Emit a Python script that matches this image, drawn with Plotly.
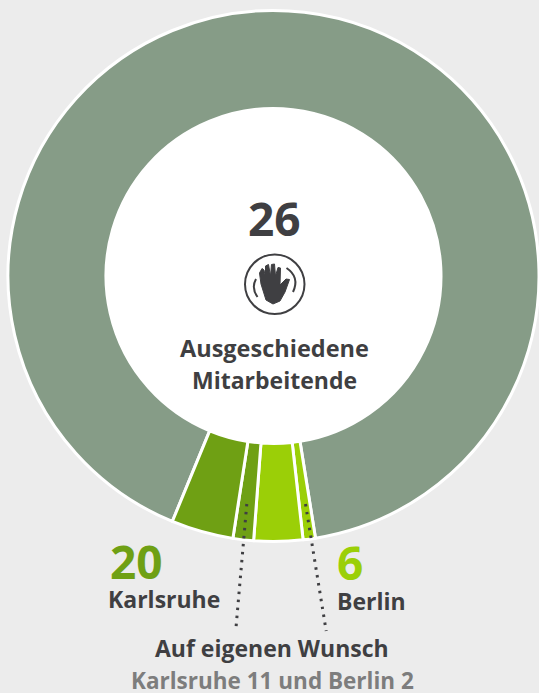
import plotly.graph_objects as go

W, H = 539, 693
categories = ["Weitere Belegschaft", "Berlin, auf eigenen Wunsch", "Berlin", "Karlsruhe, auf eigenen Wunsch", "Karlsruhe"]
values = [328.5, 2.7, 10.7, 4.5, 13.6]
colors = ["#869c87", "#9bcf07", "#9bcf07", "#6fa014", "#6fa014"]

FONT = "Open Sans"
DARK = "#3f3f42"
GRAY = "#7d7d7d"
GREEN_D = "#6fa014"
GREEN_L = "#9bcf07"

cx, cy, R, r_in = 273.5, 276, 265.5, 167.5

fig = go.Figure()
fig.add_trace(go.Pie(
    labels=categories, values=values, sort=False, direction="clockwise",
    rotation=202.4, hole=r_in / R, textinfo="none", hoverinfo="skip",
    marker=dict(colors=colors, line=dict(color="white", width=3)),
    domain=dict(x=[(cx - R) / W, 1], y=[1 - (cy + R) / H, 1 - (cy - R) / H]),
    showlegend=False,
))


def X(p): return p / W
def Y(p): return 1 - p / H


shapes = [
    dict(type="circle", xref="paper", yref="paper", layer="below",
         x0=X(cx - r_in), x1=X(cx + r_in), y0=Y(cy - r_in), y1=Y(cy + r_in),
         fillcolor="white", line=dict(width=0)),
    dict(type="line", xref="paper", yref="paper", layer="above",
         x0=X(246.8), y0=Y(504), x1=X(235.7), y1=Y(631),
         line=dict(color=DARK, width=3, dash="2.5px,5.5px")),
    dict(type="line", xref="paper", yref="paper", layer="above",
         x0=X(305.5), y0=Y(504), x1=X(326.2), y1=Y(631),
         line=dict(color=DARK, width=3, dash="2.5px,5.5px")),
    dict(type="circle", xref="paper", yref="paper", layer="above",
         x0=X(245), x1=X(304.5), y0=Y(254.5), y1=Y(314),
         line=dict(color=DARK, width=2)),
]


def path(points):
    return "M" + " L".join(f"{X(a):.5f},{Y(b):.5f}" for a, b in points) + " Z"


def arc(p0, c, p1):
    return (f"M{X(p0[0]):.5f},{Y(p0[1]):.5f} Q{X(c[0]):.5f},{Y(c[1]):.5f} "
            f"{X(p1[0]):.5f},{Y(p1[1]):.5f}")


hand = [(261, 284), (259.5, 273), (262, 268.5), (264, 270), (265.5, 277), (265.5, 266), (268.5, 264.5),
        (270.5, 276), (271.5, 264.5), (274.5, 264), (275.5, 276), (278, 267.5), (280.5, 268), (280, 285),
        (286, 279), (289.5, 279.5), (285, 292), (280, 301), (273, 304), (266, 300)]
shapes.append(dict(type="path", xref="paper", yref="paper", layer="above",
                   path=path(hand), fillcolor=DARK, line=dict(color=DARK, width=1)))
shapes.append(dict(type="path", xref="paper", yref="paper", layer="above",
                   path=arc((256, 279), (251, 288), (257.5, 297)), line=dict(color=DARK, width=2)))
shapes.append(dict(type="path", xref="paper", yref="paper", layer="above",
                   path=arc((286.5, 268), (300, 277), (293, 292)), line=dict(color=DARK, width=2)))


def label(text, x, y, size, color, anchor="center"):
    return dict(text=f"<b>{text}</b>", xref="paper", yref="paper", x=X(x), y=Y(y),
                xanchor=anchor, yanchor="middle", showarrow=False,
                font=dict(family=FONT, size=size, color=color))


annotations = [
    label("26", 274.5, 218, 46, DARK),
    label("Ausgeschiedene", 274, 348, 23.5, DARK),
    label("Mitarbeitende", 274, 380, 23, DARK),
    label("20", 108, 561, 46, GREEN_D, "left"),
    label("Karlsruhe", 106, 599, 23, DARK, "left"),
    label("6", 335, 562, 46, GREEN_L, "left"),
    label("Berlin", 335, 601, 23, DARK, "left"),
    label("Auf eigenen Wunsch", 272, 648, 23, DARK),
    label("Karlsruhe 11 und Berlin 2", 272, 680, 22.5, GRAY),
]

fig.update_layout(
    width=W, height=H, autosize=False, margin=dict(l=0, r=0, t=0, b=0),
    paper_bgcolor="#ececec", plot_bgcolor="#ececec",
    shapes=shapes, annotations=annotations, showlegend=False,
)
fig.write_html("out.html", config=dict(displayModeBar=False),
               post_script="document.body.style.margin='0';document.documentElement.style.overflow='hidden';")
